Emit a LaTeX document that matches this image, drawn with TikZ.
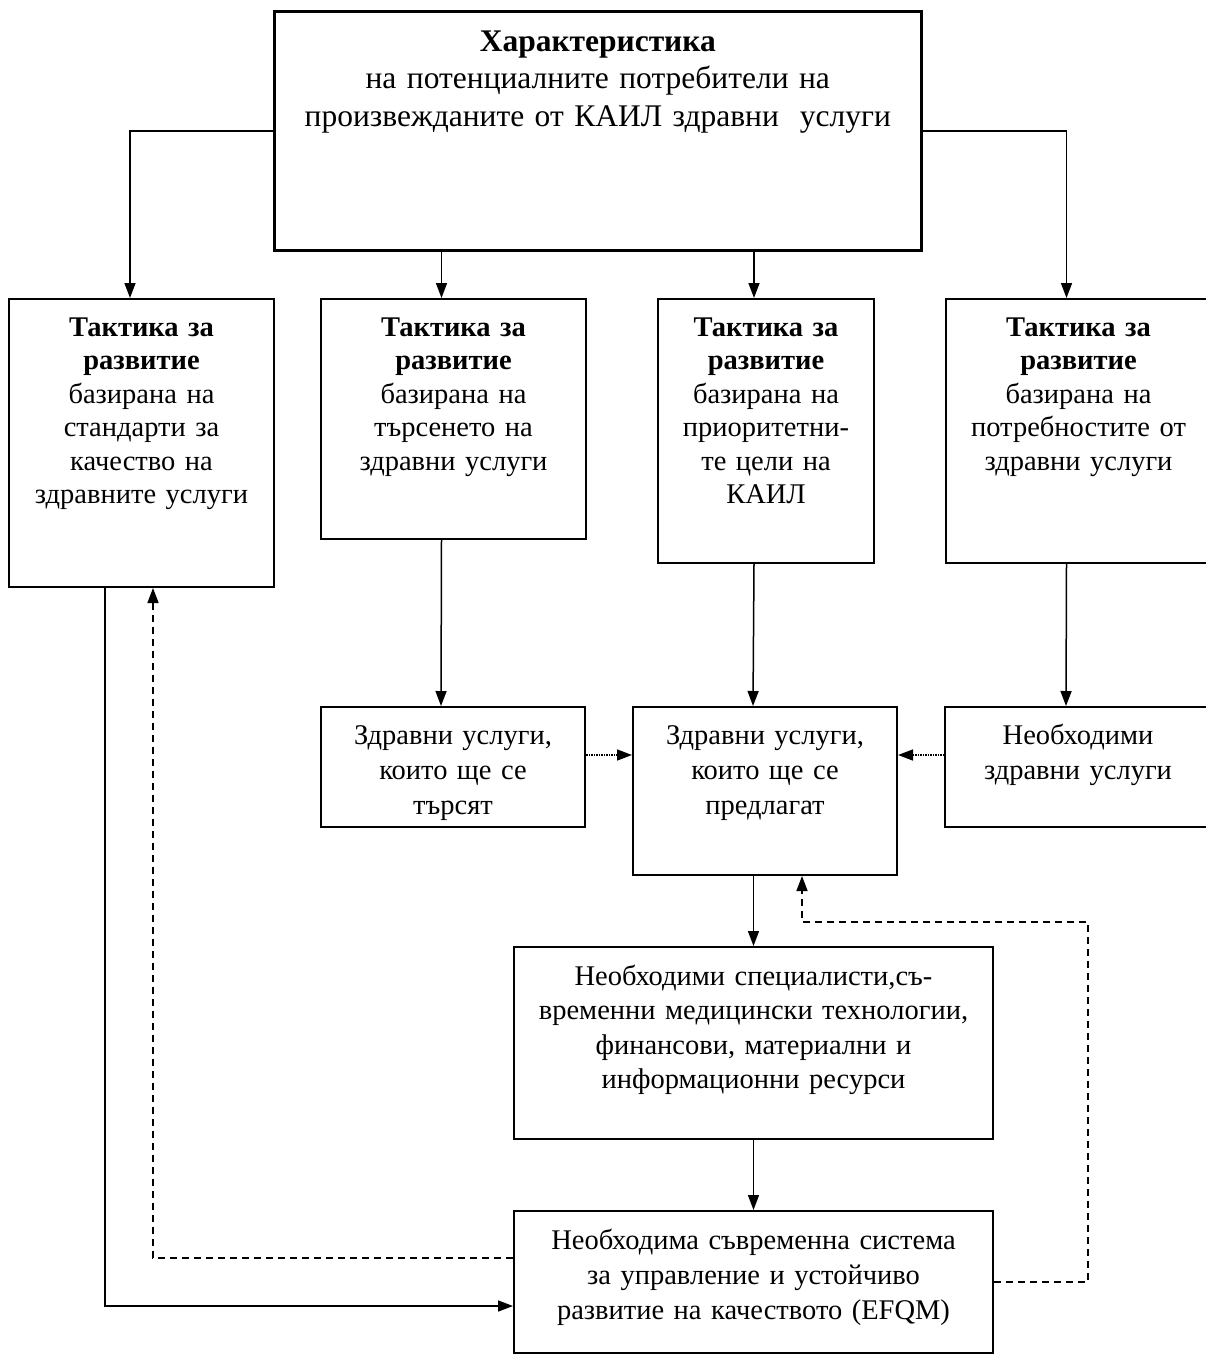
\documentclass[tikz,border=0pt]{standalone}
\usepackage{fontspec}
\setmainfont{Liberation Serif}
\usetikzlibrary{arrows.meta}

\begin{document}
\begin{tikzpicture}[x=1pt,y=-1pt,>={Triangle[length=15pt,width=11pt]},line width=1.5pt]

        \tikzstyle{every node}=[inner sep=0pt]
        \tikzstyle{tbox}=[draw, line width=2pt, align=center, anchor=north west, text height=37pt, font=\fontsize{28.5}{33.5}\selectfont]
        \tikzstyle{dotline}=[->, dash pattern=on 1.5pt off 1pt]
        \tikzstyle{dashline}=[->, dash pattern=on 7pt off 5pt]

        \useasboundingbox (0,0) rectangle (1205,1354);

        \node[tbox, text width=647pt, text height=40pt, text depth=199pt, line width=2.6pt, font=\fontsize{31.5}{37.5}\selectfont] (top) at (273,10)
            {\textbf{Характеристика}\\на потенциалните потребители на\\произвежданите от КАИЛ здравни\ \ услуги};

        \node[tbox, text width=265pt, text depth=251pt] (t1) at (8,298)
            {\textbf{Тактика за}\\\textbf{развитие}\\базирана на\\стандарти за\\качество на\\здравните услуги};
        \node[tbox, text width=265pt, text depth=203pt] (t2) at (320,298)
            {\textbf{Тактика за}\\\textbf{развитие}\\базирана на\\търсенето на\\здравни услуги};
        \node[tbox, text width=216pt, text depth=227pt] (t3) at (657,298)
            {\textbf{Тактика за}\\\textbf{развитие}\\базирана на\\приоритетни-\\те цели на\\КАИЛ};
        \node[tbox, text width=265pt, text depth=227pt] (t4) at (945,298)
            {\textbf{Тактика за}\\\textbf{развитие}\\базирана на\\потребностите от\\здравни услуги};

        \node[tbox, text width=264pt, text depth=83pt, font=\fontsize{28.5}{35}\selectfont] (seek) at (320,706)
            {Здравни услуги,\\които ще се\\търсят};
        \node[tbox, text width=264pt, text depth=131pt, font=\fontsize{28.5}{35}\selectfont] (offer) at (632,706)
            {Здравни услуги,\\които ще се\\предлагат};
        \node[tbox, text width=266pt, text depth=83pt, font=\fontsize{28.5}{35}\selectfont] (need) at (944,706)
            {Необходими\\здравни услуги};

        \node[tbox, text width=479pt, text height=38pt, text depth=154pt, font=\fontsize{28.5}{34.5}\selectfont] (spec) at (513,946)
            {Необходими специалисти,съ-\\временни медицински технологии,\\финансови, материални и\\информационни ресурси};
        \node[tbox, text width=479pt, text height=38pt, text depth=104pt, font=\fontsize{28.5}{35}\selectfont] (bot) at (513,1210)
            {Необходима съвременна система\\за управление и устойчиво\\развитие на качеството (EFQM)};

        % from the top box
        \draw[->] (top.west) -| ([xshift=-11.5pt]t1.north);
        \draw[->] (top.east) -| ([xshift=-12pt]t4.north);
        \draw[->] ([xshift=-12pt]t2.north |- top.south) -- ([xshift=-12pt]t2.north);
        \draw[->] ([xshift=-12pt]t3.north |- top.south) -- ([xshift=-12pt]t3.north);

        % down to the services
        \draw[->] ([xshift=-12pt]t2.south) -- ([xshift=-12pt]seek.north);
        \draw[->] ([xshift=-12pt]t3.south) -- ([xshift=-12pt]offer.north);
        \draw[->] ([xshift=-12pt]t4.south) -- ([xshift=-12pt]need.north);
        \draw[dotline] ([yshift=12pt]seek.east) -- ([yshift=12pt]seek.east -| offer.west);
        \draw[dotline] ([yshift=12pt]need.west) -- ([yshift=12pt]need.west -| offer.east);

        \draw[->] (spec.north |- offer.south) -- (spec.north);
        \draw[->] (spec.south) -- (bot.north);

        % feedback
        \coordinate (fb) at (1088,922);
        \draw[dashline] (bot.east) -| (fb) -| ([xshift=37pt]offer.south);
        \draw[dashline] ([yshift=24pt]bot.west) -| ([xshift=11.5pt]t1.south);
        \draw[->] ([xshift=-36.5pt]t1.south) |- ([yshift=-24pt]bot.west);

\end{tikzpicture}
\end{document}
